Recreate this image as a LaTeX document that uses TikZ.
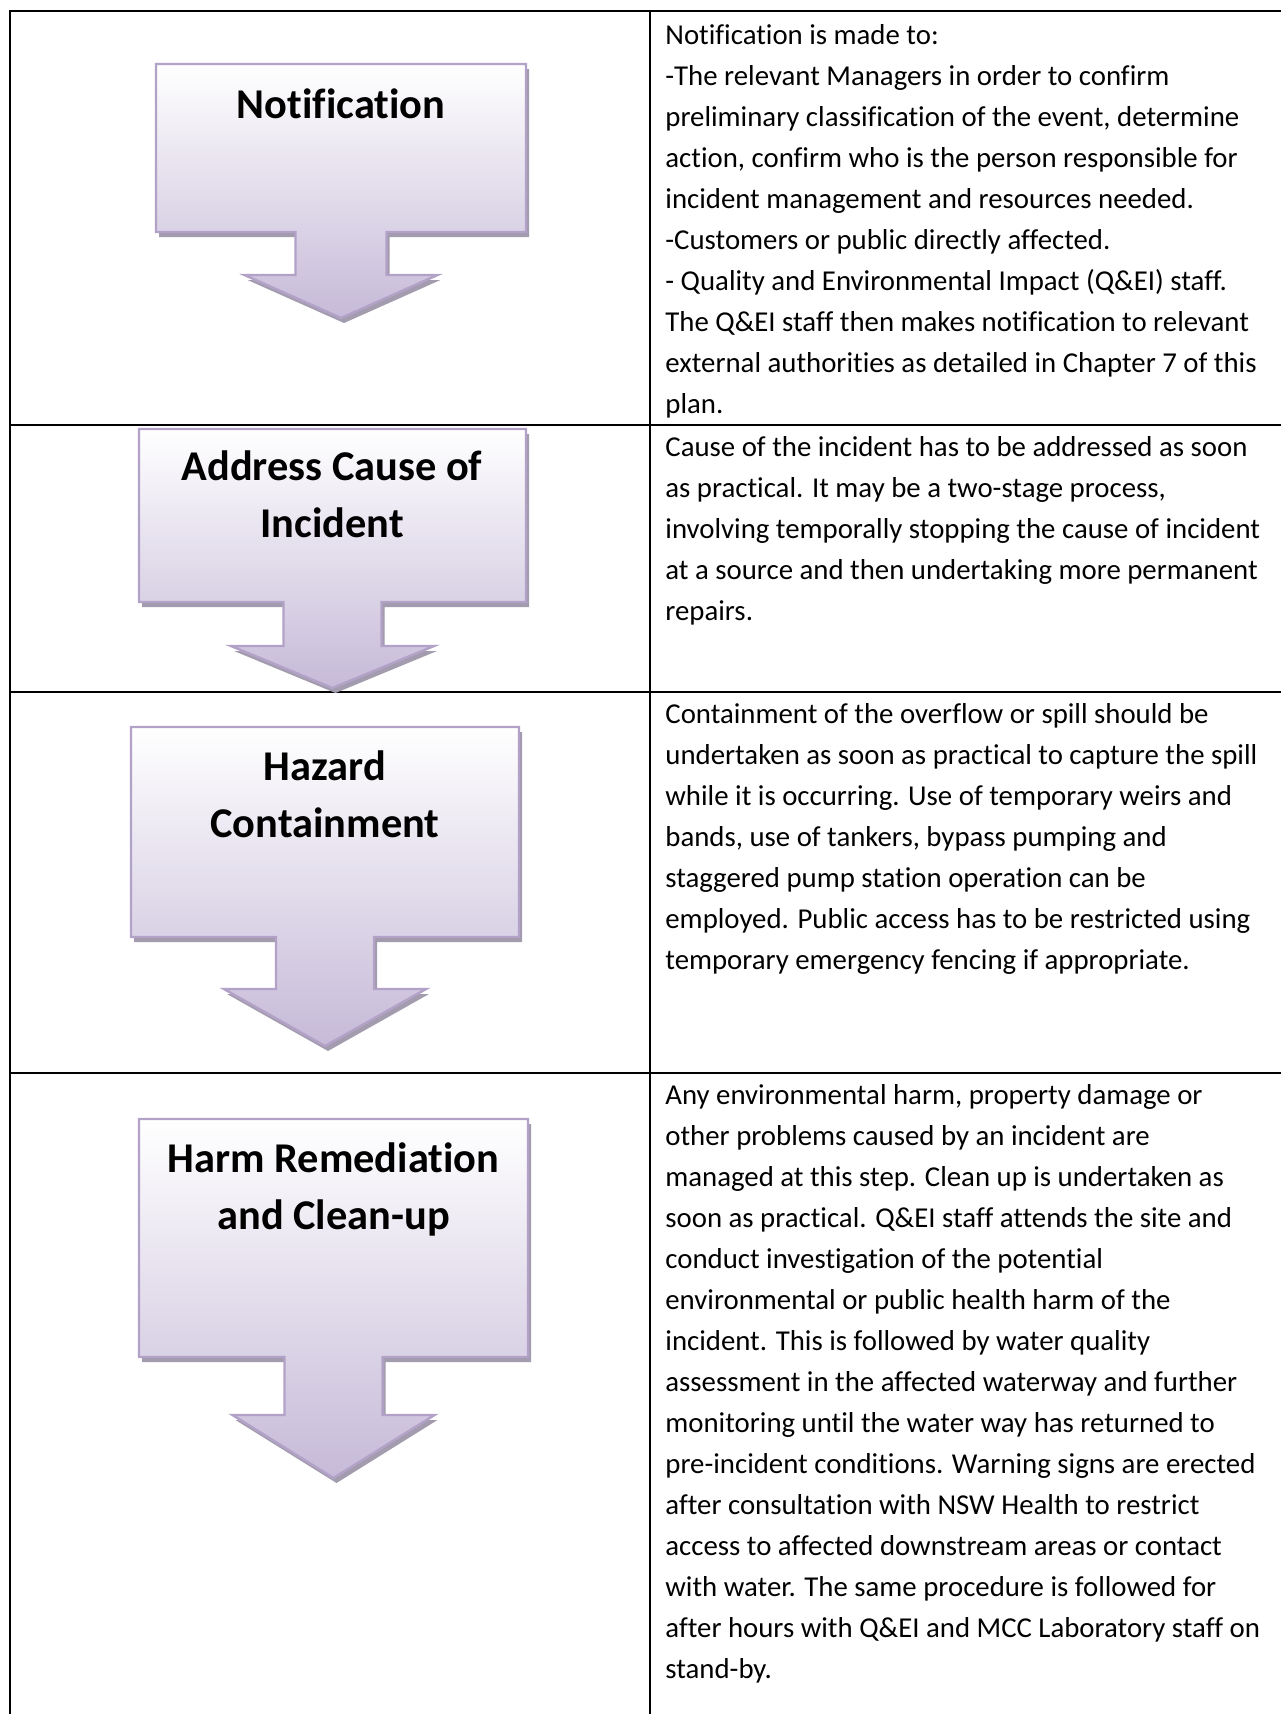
\documentclass[tikz,border=0pt]{standalone}
\usepackage{fontspec}
\setmainfont{Carlito}[Ligatures={TeX,NoCommon}]
\definecolor{arrowline}{HTML}{B3A2C7}
\definecolor{arrowshadow}{HTML}{A39BAE}
\definecolor{arrowbot}{HTML}{C6BAD8}
\tikzset{
  gridline/.style={line width=1pt, black},
  arrowoutline/.style={draw=arrowline, line width=1.2pt, line join=miter, top color=white, bottom color=arrowbot},
  arrowshadowstyle/.style={fill=arrowshadow},
  bodytext/.style={anchor=north west, inner sep=0pt, align=left, font=\fontsize{14.4}{20.5}\selectfont},
  steptext/.style={anchor=north, inner sep=0pt, align=center, font=\fontsize{21.2}{28.5}\selectfont\bfseries},
}
\newcommand{\flowarrow}[8]{%
  \pgfmathsetmacro{\ac}{(#1+#3)/2}%
  \fill[arrowshadowstyle, shift={(3,5)}] (#1,#2) -- (#3,#2) -- (#3,#4) -- ({\ac+#5},#4) -- ({\ac+#5},#6) -- ({\ac+#7},#6) -- (\ac,#8) -- ({\ac-#7},#6) -- ({\ac-#5},#6) -- ({\ac-#5},#4) -- (#1,#4) -- cycle;
  \shadedraw[arrowoutline] (#1,#2) -- (#3,#2) -- (#3,#4) -- ({\ac+#5},#4) -- ({\ac+#5},#6) -- ({\ac+#7},#6) -- (\ac,#8) -- ({\ac-#7},#6) -- ({\ac-#5},#6) -- ({\ac-#5},#4) -- (#1,#4) -- cycle;
}
\begin{document}
\begin{tikzpicture}[x=0.5pt,y=-0.5pt]
\useasboundingbox[fill=white] (0,0) rectangle (1281,1714);
% table lines
\draw[gridline] (10,1714) -- (10,11) -- (1281,11);
\draw[gridline] (650,11) -- (650,1714);
\draw[gridline] (10,425) -- (1281,425);
\draw[gridline] (10,692) -- (1281,692);
\draw[gridline] (10,1073) -- (1281,1073);
% arrows
\flowarrow{156}{64}{526}{232}{45.5}{275}{96.5}{318}
\flowarrow{139}{429}{526}{602}{49}{646}{101.5}{688}
\flowarrow{131}{727}{519}{937}{49}{989}{101}{1046}
\flowarrow{139}{1119}{528}{1357}{49}{1415}{101}{1478}
% step labels
\node[steptext] (s1) at (341,78.1) {\strut Notification};
\node[steptext] (s2) at (332,440.1) {\strut Address Cause of\\Incident};
\node[steptext] (s3) at (325,740.1) {\strut Hazard\\Containment};
\node[steptext] (s4) at (333.5,1132.1) {\strut Harm Remediation\\and Clean-up};
% descriptions
\node[bodytext] (d1) at (665,15.3) {\strut Notification is made to:\\
-The relevant Managers in order to confirm\\
preliminary classification of the event, determine\\
action, confirm who is the person responsible for\\
incident management and resources needed.\\
-Customers or public directly affected.\\
- Quality and Environmental Impact (Q\&EI) staff.\\
The Q\&EI staff then makes notification to relevant\\
external authorities as detailed in Chapter 7 of this\\
plan.};
\node[bodytext] (d2) at (665,427.3) {\strut Cause of the incident has to be addressed as soon\\
as practical. It may be a two-stage process,\\
involving temporally stopping the cause of incident\\
at a source and then undertaking more permanent\\
repairs.};
\node[bodytext] (d3) at (665,694.3) {\strut Containment of the overflow or spill should be\\
undertaken as soon as practical to capture the spill\\
while it is occurring. Use of temporary weirs and\\
bands, use of tankers, bypass pumping and\\
staggered pump station operation can be\\
employed. Public access has to be restricted using\\
temporary emergency fencing if appropriate.};
\node[bodytext] (d4) at (665,1075.3) {\strut Any environmental harm, property damage or\\
other problems caused by an incident are\\
managed at this step. Clean up is undertaken as\\
soon as practical. Q\&EI staff attends the site and\\
conduct investigation of the potential\\
environmental or public health harm of the\\
incident. This is followed by water quality\\
assessment in the affected waterway and further\\
monitoring until the water way has returned to\\
pre-incident conditions. Warning signs are erected\\
after consultation with NSW Health to restrict\\
access to affected downstream areas or contact\\
with water. The same procedure is followed for\\
after hours with Q\&EI and MCC Laboratory staff on\\
stand-by.};
\end{tikzpicture}
\end{document}
